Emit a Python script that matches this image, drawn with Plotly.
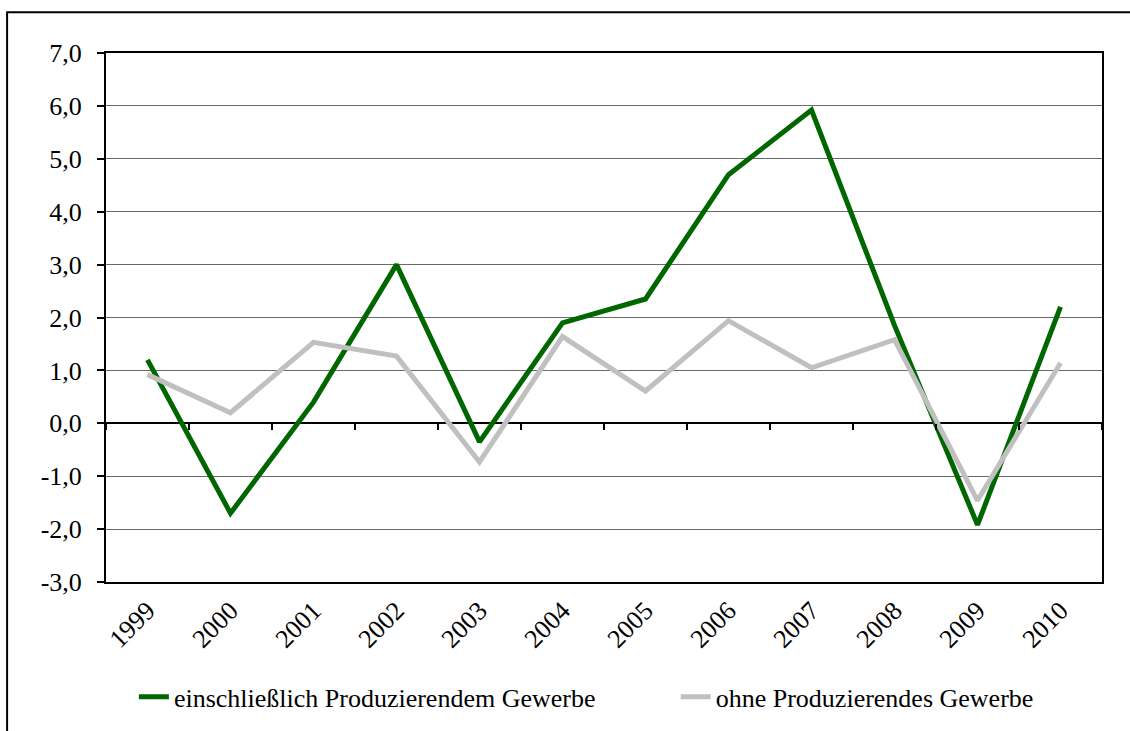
import plotly.graph_objects as go

years = ["1999", "2000", "2001", "2002", "2003", "2004", "2005", "2006", "2007", "2008", "2009", "2010"]
mit_pg = [1.2, -1.7, 0.4, 3.0, -0.35, 1.9, 2.35, 4.7, 5.92, 1.85, -1.92, 2.2]
ohne_pg = [0.92, 0.2, 1.53, 1.27, -0.73, 1.64, 0.61, 1.94, 1.05, 1.58, -1.46, 1.14]
name_mit = "einschließlich Produzierendem Gewerbe"
name_ohne = "ohne Produzierendes Gewerbe"
y_ticks = [-3, -2, -1, 0, 1, 2, 3, 4, 5, 6, 7]
y_ticktext = ["-3,0", "-2,0", "-1,0", "0,0", "1,0", "2,0", "3,0", "4,0", "5,0", "6,0", "7,0"]

FONT = "'Liberation Serif', 'Times New Roman', Tinos, serif"

fig = go.Figure()
fig.add_trace(go.Scatter(x=years, y=mit_pg, name=name_mit, mode="lines",
                         line=dict(color="#006600", width=5), legend="legend"))
fig.add_trace(go.Scatter(x=years, y=ohne_pg, name=name_ohne, mode="lines",
                         line=dict(color="#c0c0c0", width=5), xaxis="x2", legend="legend2"))

legend_common = dict(orientation="h", yanchor="middle", xanchor="left", y=-0.215,
                     font=dict(family=FONT, size=26, color="black"),
                     itemwidth=30, bgcolor="rgba(0,0,0,0)")

fig.update_layout(
    width=1130, height=731,
    margin=dict(l=106, r=28, t=53, b=148),
    paper_bgcolor="white", plot_bgcolor="white",
    font=dict(family=FONT, size=26, color="black"),
    showlegend=True,
    legend=dict(x=0.028, **legend_common),
    legend2=dict(x=0.572, **legend_common),
    xaxis=dict(type="category", categoryorder="array", categoryarray=years,
               range=[-0.5, 11.5],
               showline=True, linecolor="black", linewidth=2, mirror=True,
               showgrid=False, ticks="", tickangle=-45, ticklabelstandoff=1,
               tickfont=dict(family=FONT, size=26)),
    xaxis2=dict(type="category", categoryorder="array", categoryarray=years,
                overlaying="x", matches="x", anchor="free", position=0.3,
                showline=False, showgrid=False, ticks="outside", ticklen=6,
                tickwidth=1.5, tickcolor="black", tickson="boundaries",
                showticklabels=False),
    yaxis=dict(range=[-3, 7], tickvals=y_ticks, ticktext=y_ticktext,
               showline=True, linecolor="black", linewidth=2, mirror=True,
               showgrid=True, gridcolor="#6a6a6a", gridwidth=1.2,
               zeroline=True, zerolinecolor="black", zerolinewidth=2,
               ticks="outside", ticklen=7, tickwidth=1.5, tickcolor="black",
               ticklabelstandoff=10,
               tickfont=dict(family=FONT, size=26)),
    shapes=[dict(type="rect", xref="paper", yref="paper",
                 x0=-0.0993, x1=1.05, y0=-0.35, y1=1.077,
                 line=dict(color="black", width=2), layer="below")],
)

fig.write_html("out.html", config={"displayModeBar": False},
               post_script="document.body.style.margin='0';")
